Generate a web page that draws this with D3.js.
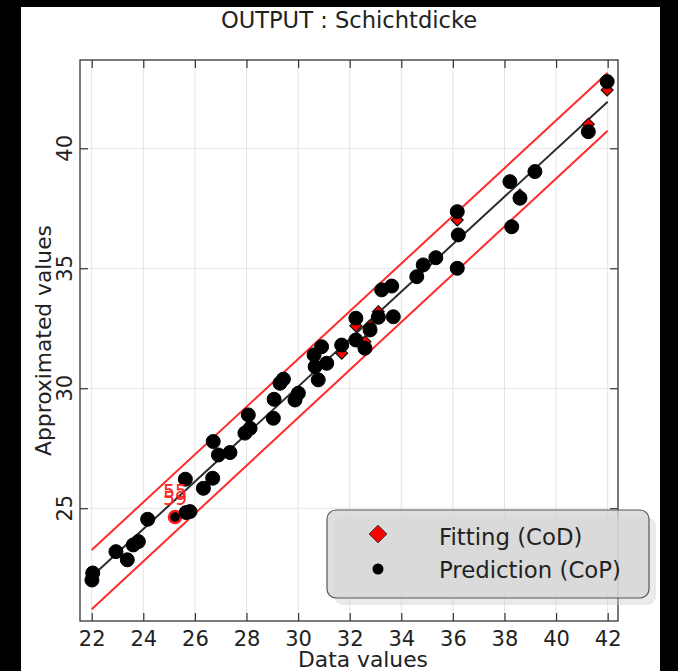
<!DOCTYPE html>
<html>
<head>
<meta charset="utf-8">
<script src="https://cdn.jsdelivr.net/npm/d3@7"></script>
<style>
  body { margin: 0; background: #000; }
  svg { display: block; font-family: "DejaVu Sans", Verdana, sans-serif; }
</style>
</head>
<body>
<div id="chart"></div>
<script>
//#region data
// data values (x) and the two approximations (y)
let dataValues = [22.01, 22.04, 22.94, 23.38, 23.61, 23.81, 24.17, 25.23, 25.66, 25.81,
    25.63, 26.33, 26.69, 26.71, 26.91, 27.36, 28.07, 27.94, 28.14, 29.04,
    29.07, 29.30, 29.43, 29.88, 30.01, 30.62, 30.66, 30.78, 30.91, 31.11,
    31.69, 32.24, 32.24, 32.59, 32.79, 33.11, 33.69, 33.24, 33.63, 34.60,
    34.85, 35.34, 36.17, 36.21, 36.17, 38.21, 38.28, 38.60, 39.18, 41.25, 41.98];
let predicted = [22.01, 22.30, 23.19, 22.85, 23.47, 23.61, 24.54, 24.63, 24.82, 24.86,
    26.21, 25.83, 26.25, 27.78, 27.22, 27.32, 28.89, 28.13, 28.33, 28.75,
    29.54, 30.21, 30.38, 29.51, 29.79, 31.39, 30.90, 30.35, 31.73, 31.04,
    31.80, 32.92, 32.01, 31.67, 32.43, 32.96, 32.98, 34.10, 34.26, 34.65,
    35.14, 35.44, 37.36, 36.39, 35.00, 38.61, 36.73, 37.92, 39.03, 40.69, 42.78];
let fitted = [22.01, 22.30, 23.19, 22.85, 23.47, 23.61, 24.54, 24.63, 24.82, 24.86,
    26.21, 25.83, 26.25, 27.78, 27.22, 27.32, 28.89, 28.13, 28.33, 28.75,
    29.54, 30.21, 30.38, 29.51, 29.79, 31.39, 30.90, 30.35, 31.73, 31.04,
    31.46, 32.60, 32.01, 31.94, 32.60, 33.19, 32.98, 34.10, 34.26, 34.65,
    35.14, 35.44, 37.01, 36.39, 35.00, 38.61, 36.73, 38.05, 39.03, 41.00, 42.43];

let fitLine = [[22, 22.15], [42, 41.94]];
let upperBand = [[22, 23.26], [42, 43.15]];
let lowerBand = [[22, 20.79], [42, 40.73]];

let outlierIndex = 7;
let outlierLabels = ['55', '59'];

let xTicks = [22, 24, 26, 28, 30, 32, 34, 36, 38, 40, 42];
let yTicks = [25, 30, 35, 40];
let legendNames = ['Fitting (CoD)', 'Prediction (CoP)'];
//#endregion

//#region variables
let width = 678,
    height = 671,
    plotLeft = 80,
    plotRight = 618,
    plotTop = 60,
    plotBottom = 621;
//#endregion

let svg = d3.select('#chart')
    .append('svg')
    .attr('width', width)
    .attr('height', height);

// white page with the black border round it
svg.append('rect')
    .attr('x', 21).attr('y', 7)
    .attr('width', 639).attr('height', height - 7)
    .attr('fill', '#fff');

let xScale = d3.scaleLinear()
    .domain([21.547, 42.4])
    .range([plotLeft, plotRight]);

let yScale = d3.scaleLinear()
    .domain([20.3, 43.68])
    .range([plotBottom, plotTop]);

//#region grid
svg.append('g')
    .selectAll('line')
    .data(xTicks)
    .enter()
    .append('line')
    .attr('x1', d => xScale(d)).attr('x2', d => xScale(d))
    .attr('y1', plotTop).attr('y2', plotBottom)
    .attr('stroke', '#e3e3e3');

svg.append('g')
    .selectAll('line')
    .data(yTicks)
    .enter()
    .append('line')
    .attr('x1', plotLeft).attr('x2', plotRight)
    .attr('y1', d => yScale(d)).attr('y2', d => yScale(d))
    .attr('stroke', '#e3e3e3');
//#endregion

//#region Axis
let axisStyle = g => {
    g.select('.domain').remove();
    g.selectAll('line').attr('stroke', '#333').attr('stroke-width', 1.2);
};

svg.append('g')
    .attr('transform', `translate(0, ${plotBottom})`)
    .call(d3.axisBottom(xScale).tickValues(xTicks).tickSizeInner(-8).tickSizeOuter(0).tickPadding(10))
    .call(axisStyle)
    .call(g => g.selectAll('text').attr('font-size', 21).attr('fill', '#222')
        .attr('font-family', '"DejaVu Sans", sans-serif'));

svg.append('g')
    .attr('transform', `translate(0, ${plotTop})`)
    .call(d3.axisTop(xScale).tickValues(xTicks).tickSizeInner(-8).tickSizeOuter(0).tickFormat(''))
    .call(axisStyle);

svg.append('g')
    .attr('transform', `translate(${plotLeft}, 0)`)
    .call(d3.axisLeft(yScale).tickValues(yTicks).tickSizeInner(-8).tickSizeOuter(0).tickFormat(''))
    .call(axisStyle);

svg.append('g')
    .attr('transform', `translate(${plotRight}, 0)`)
    .call(d3.axisRight(yScale).tickValues(yTicks).tickSizeInner(-8).tickSizeOuter(0).tickFormat(''))
    .call(axisStyle);

// rotated y tick labels
svg.append('g')
    .selectAll('text')
    .data(yTicks)
    .enter()
    .append('text')
    .attr('transform', d => `translate(72, ${yScale(d)}) rotate(-90)`)
    .attr('text-anchor', 'middle')
    .attr('font-size', 21)
    .attr('fill', '#222')
    .text(d => d);

svg.append('rect')
    .attr('x', plotLeft).attr('y', plotTop)
    .attr('width', plotRight - plotLeft).attr('height', plotBottom - plotTop)
    .attr('fill', 'none')
    .attr('stroke', '#333')
    .attr('stroke-width', 1.3);
//#endregion

//#region lines
let line = d3.line()
    .x(d => xScale(d[0]))
    .y(d => yScale(d[1]));

[upperBand, lowerBand].forEach(band => {
    svg.append('path')
        .attr('d', line(band))
        .attr('fill', 'none')
        .attr('stroke', '#ff2a2a')
        .attr('stroke-width', 2);
});

svg.append('path')
    .attr('d', line(fitLine))
    .attr('fill', 'none')
    .attr('stroke', '#2b2b2b')
    .attr('stroke-width', 2);
//#endregion

//#region points
let diamond = d3.symbol().type(d3.symbolDiamond2).size(90);

svg.append('g')
    .selectAll('path')
    .data(fitted)
    .enter()
    .append('path')
    .attr('d', diamond)
    .attr('transform', (d, i) => `translate(${xScale(dataValues[i])}, ${yScale(d)})`)
    .attr('fill', '#ff0000')
    .attr('stroke', '#111')
    .attr('stroke-width', 1.2);

svg.append('g')
    .selectAll('circle')
    .data(predicted)
    .enter()
    .append('circle')
    .attr('cx', (d, i) => xScale(dataValues[i]))
    .attr('cy', d => yScale(d))
    .attr('r', (d, i) => i === outlierIndex ? 6 : 7)
    .attr('fill', '#000')
    .attr('stroke', (d, i) => i === outlierIndex ? '#ff1a1a' : '#000')
    .attr('stroke-width', (d, i) => i === outlierIndex ? 2.5 : 1);

// labels of the flagged point, drawn on top of each other like the original
svg.append('g')
    .selectAll('text')
    .data(outlierLabels)
    .enter()
    .append('text')
    .attr('x', xScale(dataValues[outlierIndex]))
    .attr('y', (d, i) => yScale(predicted[outlierIndex]) - 19 + i * 7)
    .attr('text-anchor', 'middle')
    .attr('font-size', 19)
    .attr('fill', '#ff2020')
    .text(d => d);
//#endregion

//#region legend
let legend = svg.append('g').attr('transform', 'translate(327, 510)');

legend.append('rect')
    .attr('x', 7).attr('y', 7)
    .attr('width', 322).attr('height', 88)
    .attr('rx', 9)
    .attr('fill', '#d0d0d0')
    .attr('opacity', 0.45);

legend.append('rect')
    .attr('width', 322).attr('height', 88)
    .attr('rx', 9)
    .attr('fill', '#d6d6d6')
    .attr('fill-opacity', 0.8)
    .attr('stroke', '#555')
    .attr('stroke-width', 1.2);

legend.append('path')
    .attr('d', d3.symbol().type(d3.symbolDiamond2).size(200))
    .attr('transform', 'translate(51, 24)')
    .attr('fill', '#ff0000')
    .attr('stroke', '#333')
    .attr('stroke-width', 1);

legend.append('circle')
    .attr('cx', 51).attr('cy', 59)
    .attr('r', 5.5)
    .attr('fill', '#000');

legend.selectAll('text')
    .data(legendNames)
    .enter()
    .append('text')
    .attr('x', 112)
    .attr('y', (d, i) => 35 + i * 33)
    .attr('font-size', 22.8)
    .attr('fill', '#222')
    .text(d => d);
//#endregion

//#region titles
svg.append('text')
    .attr('x', (plotLeft + plotRight) / 2)
    .attr('y', 28)
    .attr('text-anchor', 'middle')
    .attr('font-size', 22.6)
    .attr('fill', '#222')
    .text('OUTPUT : Schichtdicke');

svg.append('text')
    .attr('x', 363)
    .attr('y', 667)
    .attr('text-anchor', 'middle')
    .attr('font-size', 21.8)
    .attr('fill', '#222')
    .text('Data values');

svg.append('text')
    .attr('transform', `translate(51, ${(plotTop + plotBottom) / 2}) rotate(-90)`)
    .attr('text-anchor', 'middle')
    .attr('font-size', 21.8)
    .attr('fill', '#222')
    .text('Approximated values');
//#endregion
</script>
</body>
</html>
